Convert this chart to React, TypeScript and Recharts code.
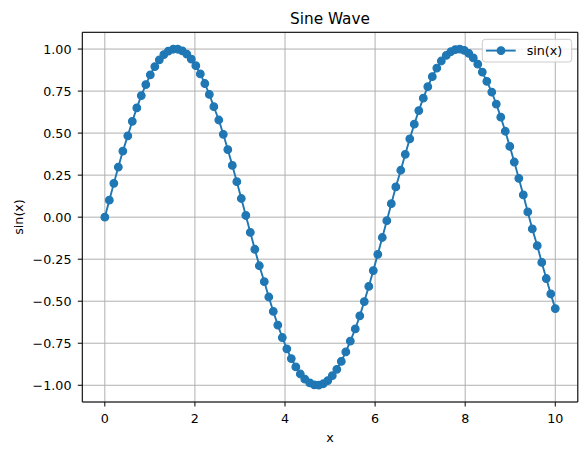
import { LineChart, Line, XAxis, YAxis, CartesianGrid, ReferenceLine } from "recharts";

// sample positions along x
const xValues = [
  0, 0.1, 0.2, 0.3, 0.4, 0.51, 0.61, 0.71, 0.81, 0.91,
  1.01, 1.11, 1.21, 1.31, 1.41, 1.52, 1.62, 1.72, 1.82, 1.92,
  2.02, 2.12, 2.22, 2.32, 2.42, 2.53, 2.63, 2.73, 2.83, 2.93,
  3.03, 3.13, 3.23, 3.33, 3.43, 3.54, 3.64, 3.74, 3.84, 3.94,
  4.04, 4.14, 4.24, 4.34, 4.44, 4.55, 4.65, 4.75, 4.85, 4.95,
  5.05, 5.15, 5.25, 5.35, 5.45, 5.56, 5.66, 5.76, 5.86, 5.96,
  6.06, 6.16, 6.26, 6.36, 6.46, 6.57, 6.67, 6.77, 6.87, 6.97,
  7.07, 7.17, 7.27, 7.37, 7.47, 7.58, 7.68, 7.78, 7.88, 7.98,
  8.08, 8.18, 8.28, 8.38, 8.48, 8.59, 8.69, 8.79, 8.89, 8.99,
  9.09, 9.19, 9.29, 9.39, 9.49, 9.6, 9.7, 9.8, 9.9, 10
];

// sin(x)
const sinValues = [
  0, 0.101, 0.201, 0.298, 0.393, 0.484, 0.57, 0.65, 0.723, 0.789,
  0.847, 0.896, 0.936, 0.967, 0.988, 0.999, 0.999, 0.989, 0.97, 0.94,
  0.901, 0.852, 0.795, 0.73, 0.657, 0.578, 0.493, 0.402, 0.308, 0.211,
  0.111, 0.01, -0.091, -0.191, -0.289, -0.384, -0.475, -0.561, -0.642, -0.716,
  -0.783, -0.841, -0.891, -0.933, -0.964, -0.986, -0.998, -0.999, -0.991, -0.972,
  -0.943, -0.905, -0.858, -0.802, -0.737, -0.665, -0.587, -0.502, -0.412, -0.318,
  -0.221, -0.121, -0.021, 0.08, 0.18, 0.279, 0.374, 0.466, 0.553, 0.634,
  0.708, 0.776, 0.836, 0.887, 0.929, 0.962, 0.984, 0.997, 1.0, 0.992,
  0.974, 0.947, 0.91, 0.863, 0.808, 0.744, 0.673, 0.595, 0.511, 0.421,
  0.328, 0.231, 0.132, 0.031, -0.07, -0.17, -0.269, -0.365, -0.457, -0.544
];

const xTicks = [0, 2, 4, 6, 8, 10];
const yTicks = [-1, -0.75, -0.5, -0.25, 0, 0.25, 0.5, 0.75, 1];

const data = xValues.map((x, i) => ({ x, y: sinValues[i] }));

const blue = "#1f77b4";
const font = "'DejaVu Sans', sans-serif";
const fmt = (v: number) => v.toFixed(2).replace("-", "\u2212");

export default function App() {
  return (
    <div style={{ position: "absolute", left: 0, top: 0, width: 587, height: 455, fontFamily: font }}>
      <LineChart
        width={587}
        height={455}
        data={data}
        margin={{ top: 32.3, right: 9.2, bottom: 23, left: 22.3 }}
      >
        <CartesianGrid stroke="#b0b0b0" strokeWidth={1} />
        <XAxis
          dataKey="x"
          type="number"
          domain={[-0.5, 10.5]}
          ticks={xTicks}
          allowDataOverflow
          height={30}
          tickSize={4.5}
          tickMargin={7}
          stroke="#000"
          tick={{ fill: "#000", fontSize: 12.7, fontFamily: font }}
          tickLine={{ stroke: "#000" }}
          axisLine={{ stroke: "#000" }}
        />
        <YAxis
          type="number"
          domain={[-1.0996, 1.0997]}
          ticks={yTicks}
          allowDataOverflow
          width={60}
          tickSize={4.5}
          tickMargin={6.3}
          tickFormatter={fmt}
          stroke="#000"
          tick={{ fill: "#000", fontSize: 12.7, fontFamily: font }}
          tickLine={{ stroke: "#000" }}
          axisLine={{ stroke: "#000" }}
        />
        <ReferenceLine y={1.0997} stroke="#000" />
        <ReferenceLine x={10.5} stroke="#000" />
        <Line
          type="linear"
          dataKey="y"
          stroke={blue}
          strokeWidth={1.9}
          dot={{ r: 3.8, fill: blue, stroke: blue, strokeWidth: 1.2 }}
          isAnimationActive={false}
        />
      </LineChart>
      <svg
        width={587}
        height={455}
        style={{ position: "absolute", left: 0, top: 0, pointerEvents: "none" }}
        fontFamily={font}
      >
        <text x={330} y={24} textAnchor="middle" fontSize={15.3} fill="#000">Sine Wave</text>
        <text x={330} y={442} textAnchor="middle" fontSize={12.7} fill="#000">x</text>
        <text
          x={0}
          y={0}
          transform="translate(22.5 217) rotate(-90)"
          textAnchor="middle"
          fontSize={12.7}
          fill="#000"
        >
          sin(x)
        </text>
        <rect x={482.3} y={39.3} width={89.4} height={22.7} rx={3} fill="#fff" fillOpacity={0.8} stroke="#cccccc" />
        <line x1={486} y1={50.6} x2={515.7} y2={50.6} stroke={blue} strokeWidth={1.9} />
        <circle cx={501} cy={50.6} r={3.8} fill={blue} stroke={blue} strokeWidth={1.2} />
        <text x={526.7} y={55} fontSize={12.7} fill="#000">sin(x)</text>
      </svg>
    </div>
  );
}
